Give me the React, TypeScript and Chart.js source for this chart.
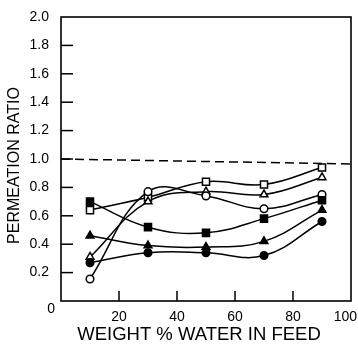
import React, { useEffect, useRef } from "react";
import { Chart, registerables } from "chart.js";

Chart.register(...registerables);

// ---- data ----
const waterPct = [10, 30, 50, 70, 90];
const openSquare = [0.64, 0.73, 0.84, 0.82, 0.94];
const openTriangle = [0.31, 0.7, 0.77, 0.75, 0.87];
const openCircle = [0.155, 0.77, 0.74, 0.65, 0.75];
const filledSquare = [0.7, 0.52, 0.48, 0.58, 0.71];
const filledTriangle = [0.46, 0.39, 0.38, 0.42, 0.64];
const filledCircle = [0.27, 0.34, 0.34, 0.32, 0.56];
const referenceX = [0, 100];
const referenceY = [1.0, 0.965];
const xTickValues = [20, 40, 60, 80, 100];
const yTickValues = [0.2, 0.4, 0.6, 0.8, 1.0, 1.2, 1.4, 1.6, 1.8];
const xTitle = "WEIGHT % WATER IN FEED";
const yTitle = "PERMEATION RATIO";
const zeroLabel = "0";

const W = 358;
const H = 346;
const FONT = "'Liberation Sans', Arial, Helvetica, sans-serif";

const pts = (ys: number[]) => waterPct.map((x, i) => ({ x, y: ys[i] }));

const framePlugin = {
  id: "frameAndText",
  afterDraw(chart: any) {
    const { ctx, chartArea } = chart;
    const xs = chart.scales.x;
    const ys = chart.scales.y;
    ctx.save();
    ctx.setLineDash([]);
    ctx.strokeStyle = "#000";
    ctx.lineWidth = 1.6;
    ctx.strokeRect(chartArea.left, chartArea.top, chartArea.right - chartArea.left, chartArea.bottom - chartArea.top);

    ctx.fillStyle = "#000";
    for (let i = 0; i < yTickValues.length; i++) {
      const py = ys.getPixelForValue(yTickValues[i]);
      ctx.fillRect(chartArea.left, py - 0.75, 12, 1.5);
    }
    for (let i = 0; i < xTickValues.length; i++) {
      const v = xTickValues[i];
      if (v >= 100) continue;
      const px = xs.getPixelForValue(v);
      ctx.fillRect(px - 0.75, chartArea.bottom - 10, 1.5, 10);
    }

    ctx.font = `14px ${FONT}`;
    ctx.textBaseline = "middle";
    for (const v of xTickValues) {
      const label = String(v);
      const w = ctx.measureText(label).width;
      let px = xs.getPixelForValue(v);
      if (px + w / 2 > W - 1) px = W - 1 - w / 2;
      ctx.textAlign = "center";
      ctx.fillText(label, px, chartArea.bottom + 16);
    }
    ctx.textAlign = "right";
    ctx.fillText(zeroLabel, chartArea.left - 6, ys.getPixelForValue(0) + 8);

    ctx.font = `18.5px ${FONT}`;
    ctx.textAlign = "center";
    ctx.fillText(xTitle, 199, 335);

    ctx.font = `16px ${FONT}`;
    ctx.translate(14.5, 165.5);
    ctx.rotate(-Math.PI / 2);
    ctx.fillText(yTitle, 0, 0);
    ctx.restore();
  },
};

const lineDs = (label: string, ys: number[], style: string, filled: boolean, radius: number) => ({
  label,
  data: pts(ys),
  borderColor: "#000",
  borderWidth: 1.5,
  backgroundColor: filled ? "#000" : "#fff",
  pointStyle: style,
  pointRadius: radius,
  pointBorderWidth: 1.5,
  pointBorderColor: "#000",
  pointBackgroundColor: filled ? "#000" : "#fff",
  tension: 0.4,
  fill: false,
});

export default function App() {
  const ref = useRef<HTMLCanvasElement | null>(null);
  useEffect(() => {
    if (!ref.current) return;
    const chart = new Chart(ref.current, {
      type: "line",
      data: {
        datasets: [
          {
            label: "ref",
            data: referenceX.map((x, i) => ({ x, y: referenceY[i] })),
            borderColor: "#000",
            borderWidth: 1.5,
            borderDash: [9, 5],
            pointRadius: 0,
            tension: 0,
            fill: false,
          },
          lineDs("filled circle", filledCircle, "circle", true, 3.8),
          lineDs("filled triangle", filledTriangle, "triangle", true, 4.5),
          lineDs("filled square", filledSquare, "rect", true, 5),
          lineDs("open circle", openCircle, "circle", false, 3.8),
          lineDs("open triangle", openTriangle, "triangle", false, 4.5),
          lineDs("open square", openSquare, "rect", false, 5),
        ],
      },
      options: {
        animation: false,
        responsive: false,
        devicePixelRatio: 1,
        layout: { padding: { top: 17, right: 7, left: 0, bottom: 0 } },
        plugins: { legend: { display: false }, tooltip: { enabled: false } },
        scales: {
          x: {
            type: "linear",
            min: 0,
            max: 100,
            grid: { display: false },
            border: { display: false },
            ticks: { display: false },
            afterFit: (s: any) => {
              s.height = 45;
              s.paddingLeft = 0;
              s.paddingRight = 0;
            },
          },
          y: {
            type: "linear",
            min: 0,
            max: 2,
            grid: { display: false },
            border: { display: false },
            ticks: {
              stepSize: 0.2,
              padding: 4,
              color: "#000",
              font: { family: FONT, size: 14 },
              callback: (v: any) => (Math.abs(Number(v)) < 1e-9 ? "" : Number(v).toFixed(1)),
            },
            afterFit: (s: any) => {
              s.width = 61;
              s.paddingTop = 0;
              s.paddingBottom = 0;
            },
          },
        },
      },
      plugins: [framePlugin],
    });
    return () => chart.destroy();
  }, []);
  return (
    <div style={{ position: "fixed", left: 0, top: 0, width: W, height: H, background: "#fff" }}>
      <canvas ref={ref} width={W} height={H} style={{ width: W, height: H, display: "block" }} />
    </div>
  );
}
